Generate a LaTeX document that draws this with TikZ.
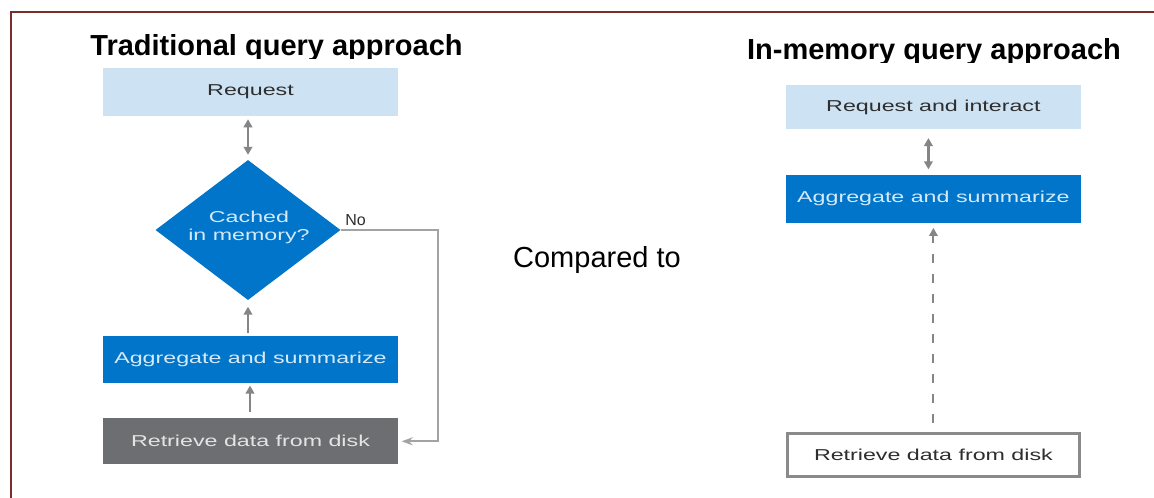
\documentclass[tikz,border=0pt]{standalone}
\usepackage{fontspec}
\setmainfont{Liberation Sans}
\usepackage{graphicx}
\usetikzlibrary{shapes.geometric,arrows.meta}

\definecolor{frame}{HTML}{7B2E2E}
\definecolor{paleblue}{HTML}{CDE2F2}
\definecolor{midblue}{HTML}{0075C9}
\definecolor{slate}{HTML}{6D6E71}
\definecolor{inkdark}{HTML}{2E2E2E}
\definecolor{inklight}{HTML}{D6E9F8}
\definecolor{inkgrey}{HTML}{E4E4E4}
\definecolor{arrowgrey}{HTML}{858585}
\definecolor{linegrey}{HTML}{A3A3A3}
\definecolor{boxedge}{HTML}{8A8A8A}

% box captions are set wide
\newcommand{\wide}[1]{\scalebox{1.47}[1]{#1}}

\begin{document}
\begin{tikzpicture}[x=1pt,y=-1pt,
  title/.style={anchor=base,inner sep=0pt,font=\bfseries\fontsize{29}{34}\selectfont},
  box/.style={rectangle,minimum width=295pt,inner sep=0pt,
    font=\fontsize{15.8}{18}\selectfont},
  lightbox/.style={box,fill=paleblue,text=inkdark},
  bluebox/.style={box,fill=midblue,text=inklight},
  greybox/.style={box,fill=slate,text=inkgrey},
  plainbox/.style={box,fill=white,draw=boxedge,line width=3pt,text=inkdark},
  decision/.style={diamond,aspect=1.32,fill=midblue,minimum width=185pt,
    minimum height=140pt,inner sep=0pt},
  flow/.style={draw=arrowgrey,line width=2.6pt,
    -{Triangle[length=8pt,width=8.5pt]}},
  twoway/.style={draw=arrowgrey,line width=2.6pt,
    {Triangle[length=8pt,width=8.5pt]}-{Triangle[length=8pt,width=8.5pt]}},
  branch/.style={draw=linegrey,line width=2.2pt,
    -{Stealth[length=11pt,width=8pt]}},
  lazy/.style={draw=arrowgrey,line width=1.9pt,dash pattern=on 9pt off 11pt,
    -{Triangle[length=8pt,width=8.5pt]}}]

% page and frame
\useasboundingbox (0,0) rectangle (1154,498);
\fill[white] (0,0) rectangle (1154,498);
\draw[frame,line width=2pt] (10.5,498) -- (10.5,11.5) -- (1154,11.5);

% headings (descenders cut by the diagram area)
\begin{scope}
  \clip (0,0) rectangle (600,58);
  \node[title] (tradtitle) at (276.5,55) {Traditional query approach};
\end{scope}
\begin{scope}
  \clip (600,0) rectangle (1154,62);
  \node[title] (memtitle) at (934,59.5) {In-memory query approach};
\end{scope}

\node[anchor=base,inner sep=0pt,font=\fontsize{29}{34}\selectfont]
  (compare) at (597,267) {Compared to};

% traditional flow
\node[lightbox,minimum height=47.7pt] (req) at (250.5,92.2) {\wide{Request}};
\node[decision] (dia) at (248,230) {};
\node[text=inklight,align=center,inner sep=0pt,
  font=\fontsize{15.8}{17.5}\selectfont] (diatext) at (249,227.5)
  {\wide{Cached}\\\wide{in memory?}};
\node[bluebox,minimum height=47.3pt] (agg) at (250.5,359.7) {\wide{Aggregate and summarize}};
\node[greybox,minimum height=46pt] (ret) at (250.5,441.3) {\wide{Retrieve data from disk}};

\node[anchor=base,inner sep=0pt,text=inkdark,font=\fontsize{16}{18}\selectfont]
  (nolabel) at (355.5,225.7) {No};
\coordinate (nocorner) at (438,230);

\draw[twoway,shorten <=3pt,shorten >=5pt] (dia.north |- req.south) -- (dia.north);
\draw[flow,shorten <=3pt,shorten >=6.5pt] (dia.south |- agg.north) -- (dia.south);
\draw[flow,shorten <=6pt,shorten >=2pt] ([xshift=-0.5pt]ret.north) -- ([xshift=-0.5pt]agg.south);
\draw[branch,shorten >=3.5pt] (dia.east) -- (nocorner) |- (ret.east);

% in-memory flow
\node[lightbox,minimum height=44.3pt] (rreq) at (933.4,107.2) {\wide{Request and interact}};
\node[bluebox,minimum height=47.7pt] (ragg) at (933.4,198.9) {\wide{Aggregate and summarize}};
\node[plainbox,minimum height=43.6pt,minimum width=292pt] (rret) at (933.4,455) {\wide{Retrieve data from disk}};

\draw[twoway,shorten <=8.5pt,shorten >=5.5pt] ([xshift=-5pt]rreq.south) -- ([xshift=-5pt]ragg.north);
\draw[lazy,shorten <=9pt,shorten >=5pt] (rret.north) -- (ragg.south);
\end{tikzpicture}
\end{document}
